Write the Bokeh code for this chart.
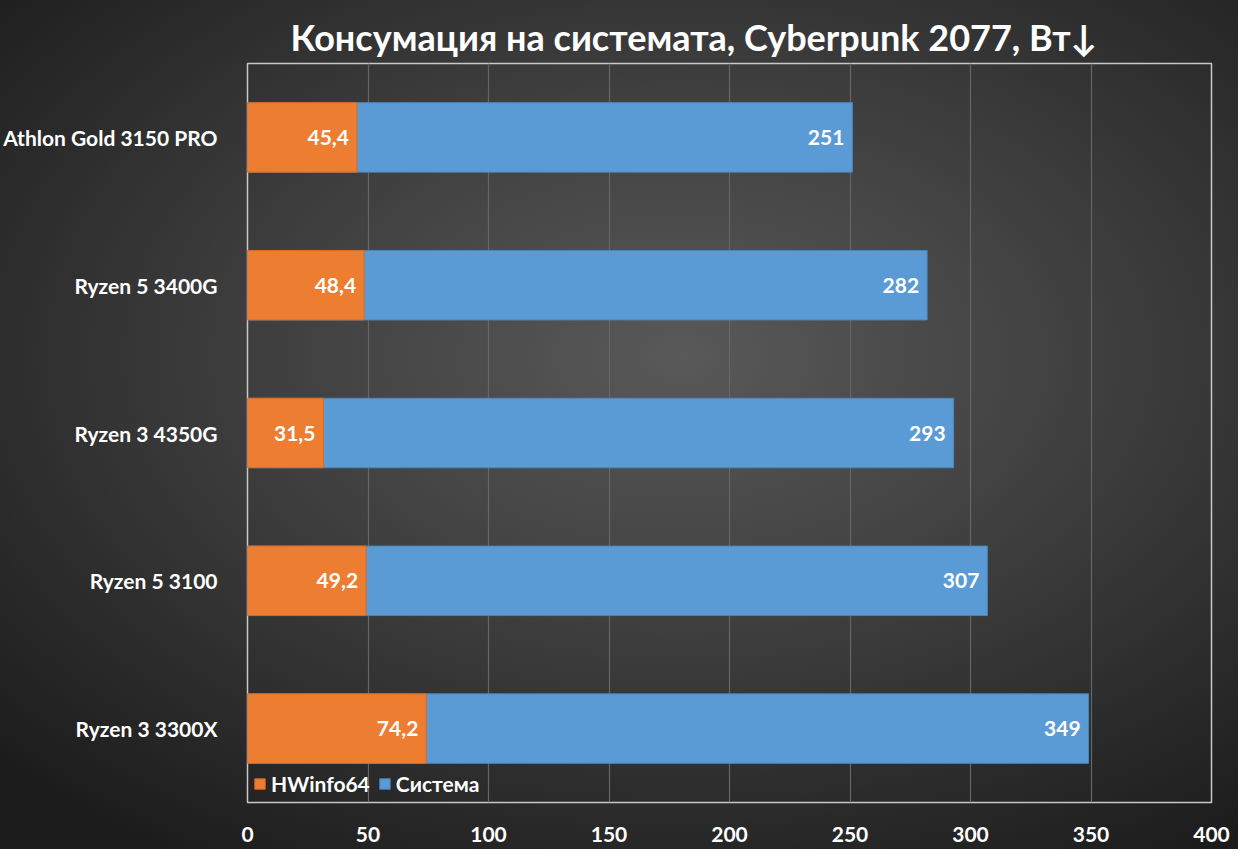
from bokeh.plotting import figure
from bokeh.models import ColumnDataSource, FactorRange, Legend, LegendItem, Title, FixedTicker
from bokeh.core.properties import value
from bokeh.embed import file_html
from bokeh.resources import INLINE

cpus = ["Athlon Gold 3150 PRO", "Ryzen 5 3400G", "Ryzen 3 4350G", "Ryzen 5 3100", "Ryzen 3 3300X"]
hwinfo = [45.4, 48.4, 31.5, 49.2, 74.2]
system = [251, 282, 293, 307, 349]
x_ticks = [0, 50, 100, 150, 200, 250, 300, 350, 400]
title_text = "Консумация на системата, Cyberpunk 2077, Вт↓"

FONT = "Lato"
W, H = 1238, 849
BL, BR, BT, BB = 245, 27, 63, 47

def fmt(v):
    return ("%g" % v).replace(".", ",")

src = ColumnDataSource(dict(
    cpu=cpus, hw=hwinfo, sys=system,
    hw_lbl=[fmt(v) for v in hwinfo], sys_lbl=[fmt(v) for v in system],
))

p = figure(width=W, height=H, y_range=FactorRange(*reversed(cpus)), x_range=(0, 400),
           output_backend="svg", toolbar_location=None,
           min_border_left=BL, min_border_right=BR, min_border_top=BT, min_border_bottom=BB)

p.styles = {"background": "radial-gradient(ellipse 75% 70% at 55% 42%, #595959 0%, #3f3f3f 45%, #1c1c1c 100%)"}
p.border_fill_alpha = 0
p.background_fill_alpha = 0
p.outline_line_color = "#c8c8c8"
p.outline_line_width = 1.5

r_sys = p.hbar(y="cpu", left=0, right="sys", height=0.47, source=src,
               fill_color="#5B9BD5", line_color="#4a86bd", line_width=1)
r_hw = p.hbar(y="cpu", left=0, right="hw", height=0.47, source=src,
              fill_color="#ED7D31", line_color="#d86a20", line_width=1)

p.text(x="sys", y="cpu", text="sys_lbl", source=src, text_align="right", text_baseline="middle",
       x_offset=-8, text_color="white", text_font=value(FONT), text_font_style="bold",
       text_font_size="21px")
p.text(x="hw", y="cpu", text="hw_lbl", source=src, text_align="right", text_baseline="middle",
       x_offset=-8, text_color="white", text_font=value(FONT), text_font_style="bold",
       text_font_size="21px")

p.xaxis.ticker = FixedTicker(ticks=x_ticks)
p.xgrid.ticker = FixedTicker(ticks=x_ticks)
p.xgrid.grid_line_color = "#666666"
p.xgrid.grid_line_width = 1.2
p.ygrid.grid_line_color = None

for ax in (p.xaxis, p.yaxis):
    ax.axis_line_color = None
    ax.major_tick_line_color = None
    ax.minor_tick_line_color = None
    ax.major_label_text_color = "white"
    ax.major_label_text_font = FONT
    ax.major_label_text_font_style = "bold"

p.xaxis.major_label_text_font_size = "21px"
p.xaxis.major_label_standoff = 18
p.yaxis.major_label_text_font_size = "21px"
p.yaxis.major_label_standoff = 24

legend = Legend(items=[LegendItem(label="HWinfo64", renderers=[r_hw]),
                       LegendItem(label="Система", renderers=[r_sys])],
                orientation="horizontal", location=(6, 6),
                background_fill_alpha=0, border_line_color=None,
                label_text_color="white", label_text_font=FONT, label_text_font_style="bold",
                label_text_font_size="21px", glyph_width=13, glyph_height=13,
                spacing=8, label_standoff=5, padding=0, margin=0, label_height=20)
p.add_layout(legend, "center")

p.title = Title(text=title_text, align="left", offset=43, text_color="white", text_font=FONT,
                text_font_style="bold", text_font_size="36px", standoff=10)

open("out.html", "w").write(file_html(p, INLINE))
